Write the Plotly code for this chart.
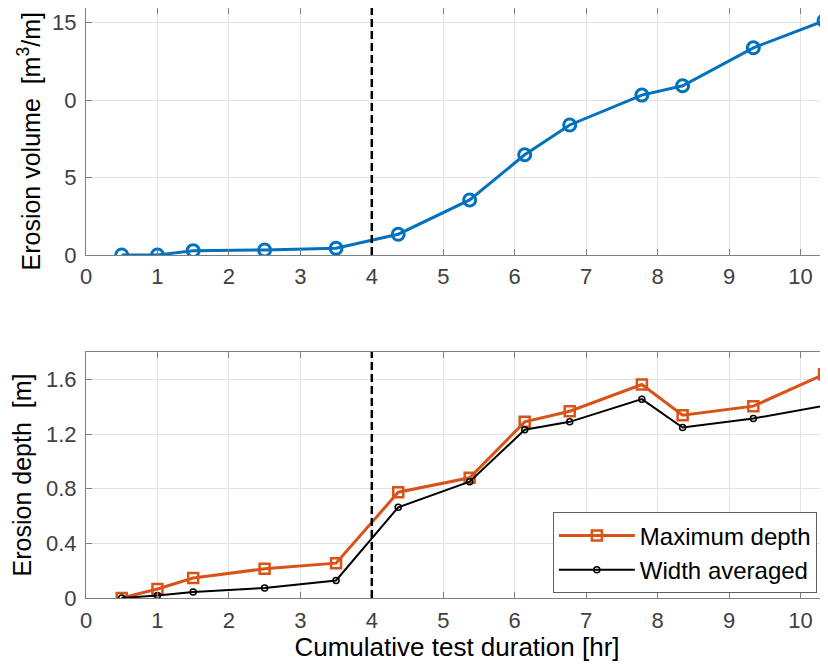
import plotly.graph_objects as go

# ---- data ----
duration_hr = [0.5, 1.0, 1.5, 2.5, 3.5, 4.37, 5.37, 6.14, 6.77, 7.78, 8.35, 9.34, 10.33]
erosion_volume = [0.0, 0.0, 0.28, 0.32, 0.43, 1.34, 3.55, 6.47, 8.39, 10.32, 10.92, 13.37, 15.12]
max_depth = [0.0, 0.066, 0.146, 0.214, 0.255, 0.774, 0.88, 1.289, 1.367, 1.562, 1.338, 1.404, 1.637]
width_avg_depth = [0.0, 0.019, 0.044, 0.073, 0.128, 0.664, 0.851, 1.231, 1.289, 1.455, 1.248, 1.314, 1.406]

x_ticks = [0, 1, 2, 3, 4, 5, 6, 7, 8, 9, 10]
vol_tickvals = [0, 5, 10, 15]
vol_ticktext = ["0", "5", "0", "15"]
depth_tickvals = [0, 0.4, 0.8, 1.2, 1.6]
depth_ticktext = ["0", "0.4", "0.8", "1.2", "1.6"]
threshold_hr = 4

FONT = "Liberation Sans, Arial, Helvetica, sans-serif"
BLUE = "#0072BD"
ORANGE = "#D95319"
AXIS_COL = "#7f7f7f"
TICK_COL = "#404040"
GRID_COL = "#e3e3e3"
NB = "\u00a0"

fig = go.Figure()

fig.add_trace(go.Scatter(
    x=duration_hr, y=erosion_volume, mode="lines+markers",
    line=dict(color=BLUE, width=3),
    marker=dict(symbol="circle-open", size=12, color=BLUE, line=dict(width=3)),
    showlegend=False, xaxis="x", yaxis="y",
))
fig.add_trace(go.Scatter(
    x=duration_hr, y=max_depth, mode="lines+markers", name="Maximum depth",
    line=dict(color=ORANGE, width=3),
    marker=dict(symbol="square-open", size=10, color=ORANGE, line=dict(width=2.5)),
    xaxis="x2", yaxis="y2",
))
fig.add_trace(go.Scatter(
    x=duration_hr, y=width_avg_depth, mode="lines+markers", name="Width averaged",
    line=dict(color="black", width=2),
    marker=dict(symbol="circle-open", size=6, color="black", line=dict(width=1.5)),
    xaxis="x2", yaxis="y2",
))

xr = [0, 10.385]
common_x = dict(
    range=xr, tickvals=x_ticks, showgrid=True, gridcolor=GRID_COL, gridwidth=1,
    zeroline=False, showline=True, linecolor=AXIS_COL, linewidth=1.2,
    mirror="ticks", ticks="inside", ticklen=6, tickcolor=AXIS_COL,
    tickfont=dict(family=FONT, size=22, color=TICK_COL), ticklabelstandoff=2,
)
common_y = dict(
    showgrid=True, gridcolor=GRID_COL, gridwidth=1, zeroline=False,
    showline=True, linecolor=AXIS_COL, linewidth=1.2, ticks="inside",
    ticklen=6, tickcolor=AXIS_COL,
    tickfont=dict(family=FONT, size=22, color=TICK_COL), ticklabelstandoff=4,
)

fig.update_layout(
    width=820, height=663,
    margin=dict(l=78, r=0, t=0, b=73),
    paper_bgcolor="white", plot_bgcolor="white",
    font=dict(family=FONT, color="black"),
    xaxis=dict(domain=[0, 1], anchor="y", **common_x),
    yaxis=dict(domain=[0.5814, 1], anchor="x", range=[0, 15.94],
               tickvals=vol_tickvals, ticktext=vol_ticktext, **common_y),
    xaxis2=dict(domain=[0, 1], anchor="y2",
                title=dict(text="Cumulative test duration [hr]",
                           font=dict(family=FONT, size=26, color="black"), standoff=6),
                **common_x),
    yaxis2=dict(domain=[0, 0.4169], anchor="x2", range=[0, 1.8],
                tickvals=depth_tickvals, ticktext=depth_ticktext,
                title=dict(text="Erosion depth" + NB * 2 + "[m]",
                           font=dict(family=FONT, size=25, color="black"), standoff=8),
                **common_y),
    annotations=[
        dict(text="Erosion volume" + NB * 2 + "[m<sup>3</sup>/m]",
             textangle=-90, xref="paper", yref="paper", x=0, y=0.7737,
             xshift=-57, xanchor="center", yanchor="middle", showarrow=False,
             font=dict(family=FONT, size=25, color="black")),
    ],
    legend=dict(
        x=0.985, y=0.0763, xanchor="right", yanchor="middle",
        xref="paper", yref="paper",
        bgcolor="white", bordercolor="#606060", borderwidth=1,
        font=dict(family=FONT, size=24, color="black"),
        itemwidth=76, tracegroupgap=0,
    ),
    shapes=[
        dict(type="line", xref="x", yref="y domain", x0=threshold_hr, x1=threshold_hr,
             y0=0, y1=1, line=dict(color="black", width=2.5, dash="8px,4px")),
        dict(type="line", xref="x2", yref="y2 domain", x0=threshold_hr, x1=threshold_hr,
             y0=0, y1=1, line=dict(color="black", width=2.5, dash="8px,4px")),
    ],
)

fig.write_html("out.html")
